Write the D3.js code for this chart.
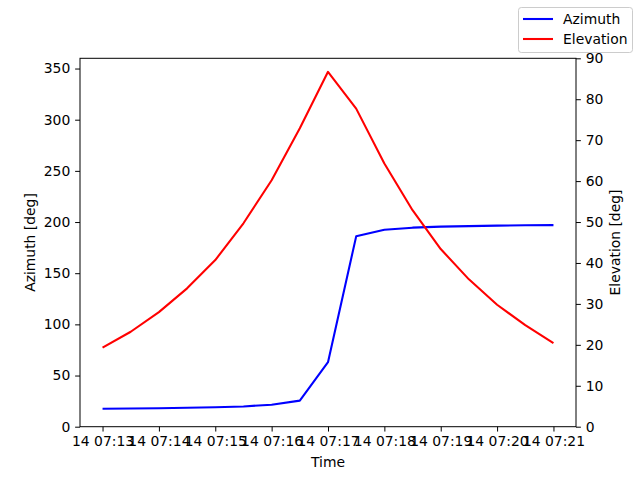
<!DOCTYPE html>
<html><head><meta charset="utf-8">
<script src="https://cdn.jsdelivr.net/npm/d3@7"></script>
<style>body{margin:0;background:#fff}svg{display:block;font-family:"DejaVu Sans",sans-serif}</style>
</head><body>
<script>
const times = ["07:13:00","07:13:30","07:14:00","07:14:30","07:15:00","07:15:30","07:16:00","07:16:30","07:17:00","07:17:30","07:18:00","07:18:30","07:19:00","07:19:30","07:20:00","07:20:30","07:21:00"];
const azimuth = [17.5,17.8,18.1,18.5,19.0,19.8,21.5,25.5,63,186,192.4,194.5,195.5,196,196.5,196.8,197];
const elevation = [19.3,23.2,28.0,33.8,40.7,49.7,60.2,72.9,86.7,77.7,64.3,52.9,43.4,36.0,29.8,24.8,20.4];
const xTicks = ["07:13","07:14","07:15","07:16","07:17","07:18","07:19","07:20","07:21"];
const azTicks = [0,50,100,150,200,250,300,350];
const elTicks = [0,10,20,30,40,50,60,70,80,90];
const seriesNames = ["Azimuth","Elevation"];
const seriesColors = ["#0000ff","#ff0000"];

const W=640,H=480, L=80, R=576, T=58.3, B=426.7;
const parse = s => new Date(Date.UTC(2024,0,14,+s.slice(0,2),+s.slice(3,5),s.length>5?+s.slice(6,8):0));
const dates = times.map(parse);
const t0 = dates[0], t1 = dates[dates.length-1];
const span = t1 - t0;
const x = d3.scaleUtc().domain([new Date(+t0 - span*0.05), new Date(+t1 + span*0.05)]).range([L,R]);
const yA = d3.scaleLinear().domain([0,360]).range([B,T]);
const yE = d3.scaleLinear().domain([0,90]).range([B,T]);

const svg = d3.select("body").append("svg").attr("width",W).attr("height",H);
const fs = 13.9;

const fmt = d3.utcFormat("%d %H:%M");
const xAxis = d3.axisBottom(x).tickValues(xTicks.map(parse)).tickFormat(fmt).tickSize(4.86).tickPadding(4.86);
const gx = svg.append("g").attr("transform",`translate(0,${B})`).call(xAxis);
const gyl = svg.append("g").attr("transform",`translate(${L},0)`).call(d3.axisLeft(yA).tickValues(azTicks).tickSize(4.86).tickPadding(4.86));
const gyr = svg.append("g").attr("transform",`translate(${R},0)`).call(d3.axisRight(yE).tickValues(elTicks).tickSize(4.86).tickPadding(4.86));
[gx,gyl,gyr].forEach(g=>{
  g.select(".domain").remove();
  g.selectAll("text").attr("font-size",fs).attr("font-family","DejaVu Sans").attr("fill","#000");
  g.selectAll("line").attr("stroke","#000").attr("stroke-width",1);
});

// lines
const line = ys => d3.line().x((d,i)=>x(dates[i])).y(d=>ys(d));
svg.append("path").datum(azimuth).attr("d",line(yA)).attr("fill","none").attr("stroke",seriesColors[0]).attr("stroke-width",2.08).attr("stroke-linejoin","round");
svg.append("path").datum(elevation).attr("d",line(yE)).attr("fill","none").attr("stroke",seriesColors[1]).attr("stroke-width",2.08).attr("stroke-linejoin","round");

// frame
svg.append("rect").attr("x",L).attr("y",T).attr("width",R-L).attr("height",B-T).attr("fill","none").attr("stroke","#000").attr("stroke-width",1);

// labels
svg.append("text").attr("x",(L+R)/2).attr("y",467).attr("text-anchor","middle").attr("font-size",fs).text("Time");
svg.append("text").attr("transform",`translate(35,${(T+B)/2}) rotate(-90)`).attr("text-anchor","middle").attr("font-size",fs).text("Azimuth [deg]");
svg.append("text").attr("transform",`translate(620,${(T+B)/2}) rotate(-90)`).attr("text-anchor","middle").attr("font-size",fs).text("Elevation [deg]");

// legend
const lg = svg.append("g");
lg.append("rect").attr("x",518.5).attr("y",7.5).attr("width",114).attr("height",45).attr("rx",2.8)
  .attr("fill","#fff").attr("fill-opacity",0.8).attr("stroke","#cccccc").attr("stroke-width",1);
seriesNames.forEach((n,i)=>{
  const yy = 19 + i*20;
  lg.append("line").attr("x1",523).attr("x2",553).attr("y1",yy).attr("y2",yy).attr("stroke",seriesColors[i]).attr("stroke-width",2.08);
  lg.append("text").attr("x",563).attr("y",yy+5).attr("font-size",fs).text(n);
});
</script>
</body></html>
